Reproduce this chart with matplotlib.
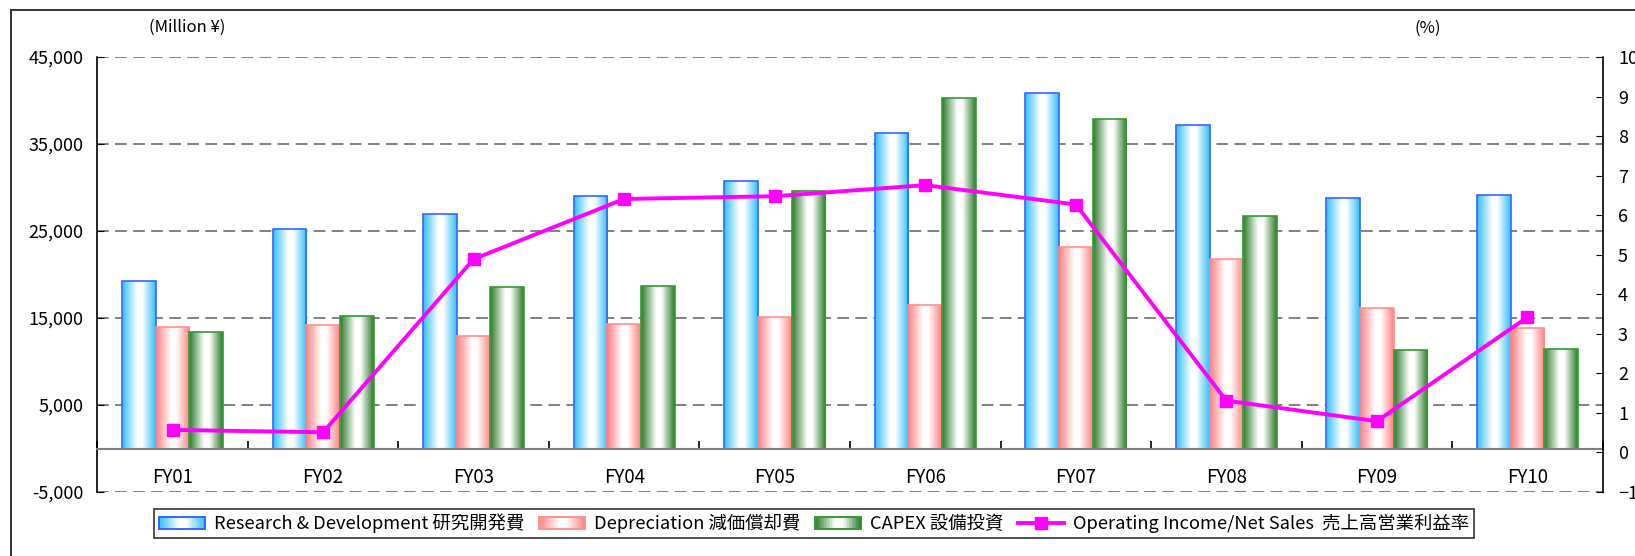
import numpy as np
import matplotlib
matplotlib.use('Agg')
import matplotlib.pyplot as plt
from matplotlib.colors import LinearSegmentedColormap
from matplotlib.legend_handler import HandlerBase
from matplotlib.patches import Rectangle
from matplotlib.lines import Line2D
from matplotlib.ticker import FuncFormatter

plt.rcParams['font.family'] = ['Noto Sans CJK JP', 'DejaVu Sans']

# ---------------- data ----------------
categories = ['FY01', 'FY02', 'FY03', 'FY04', 'FY05', 'FY06', 'FY07', 'FY08', 'FY09', 'FY10']
rnd = [19200, 25250, 26950, 28970, 30760, 36260, 40840, 37210, 28820, 29160]
depreciation = [13980, 14200, 12900, 14310, 15110, 16490, 23130, 21760, 16110, 13890]
capex = [13410, 15190, 18510, 18700, 29620, 40230, 37820, 26760, 11300, 11490]
op_margin = [0.57, 0.51, 4.89, 6.41, 6.48, 6.76, 6.27, 1.31, 0.79, 3.42]
left_ticks = [-5000, 5000, 15000, 25000, 35000, 45000]
right_ticks = list(range(-1, 11))
series_labels = ['Research & Development 研究開発費', 'Depreciation 減価償却費',
                 'CAPEX 設備投資', 'Operating Income/Net Sales  売上高営業利益率']
left_unit = '(Million ¥)'
right_unit = '(%)'

# ---------------- styles ----------------
W, H = 1635, 556
fig = plt.figure(figsize=(W / 100, H / 100), dpi=100)
ax = fig.add_axes([97.3 / W, 1 - 492 / H, (1602.7 - 97.3) / W, (492 - 57) / H])

cmaps = [
    LinearSegmentedColormap.from_list('b', [(0, '#30bff8'), (0.45, '#ffffff'), (0.6, '#ffffff'), (1, '#30bff8')]),
    LinearSegmentedColormap.from_list('r', [(0, '#ff8080'), (0.45, '#ffffff'), (0.6, '#ffffff'), (1, '#ff8080')]),
    LinearSegmentedColormap.from_list('g', [(0, '#2a7a2a'), (0.45, '#ffffff'), (0.6, '#ffffff'), (1, '#2a7a2a')]),
]
edges = ['#3366ff', '#ff9090', '#339933']

x = np.arange(len(categories))
bw = 0.2238
offsets = [-bw, 0, bw]
grad = np.linspace(0, 1, 256).reshape(1, -1)

containers = []
for vals, off, cm, ec in zip([rnd, depreciation, capex], offsets, cmaps, edges):
    bars = ax.bar(x + off, vals, width=bw, facecolor='none', edgecolor=ec, linewidth=1.2, zorder=3)
    for p in bars.patches:
        x0, w, h = p.get_x(), p.get_width(), p.get_height()
        ax.imshow(grad, cmap=cm, extent=[x0, x0 + w, 0, h], aspect='auto',
                  interpolation='bilinear', zorder=2.5)
    containers.append(bars)

ax.set_xlim(-0.5, len(categories) - 0.5)
ax.set_ylim(-5000, 45000)
ax.set_yticks(left_ticks)
ax.yaxis.set_major_formatter(FuncFormatter(lambda v, p: f'{v:,.0f}'))
ax.yaxis.grid(True, linestyle=(0, (6.5, 3.5)), color='#777777', linewidth=1.3)
ax.set_axisbelow(True)
ax.tick_params(axis='y', direction='in', length=5, labelsize=13, pad=10, colors='black')

ax.spines['top'].set_visible(False)
ax.spines['right'].set_visible(False)
ax.spines['left'].set_color('black')
ax.spines['left'].set_linewidth(1.2)
ax.spines['bottom'].set_position(('data', 0))
ax.spines['bottom'].set_color('#808080')
ax.spines['bottom'].set_linewidth(1.5)
ax.spines['bottom'].set_zorder(4)

ax.set_xticks(x)
ax.set_xticklabels(categories)
ax.set_xticks(np.arange(-0.5, len(categories), 1), minor=True)
ax.tick_params(axis='x', which='major', length=0, pad=13, labelsize=13.5)
ax.tick_params(axis='x', which='minor', direction='in', length=6, width=1.2, color='black')

ax2 = ax.twinx()
ax2.set_position(ax.get_position())
line, = ax2.plot(x, op_margin, color='#ff00ff', lw=2.8, marker='s', ms=8, zorder=5)
ax2.set_ylim(-1, 10)
ax2.set_yticks(right_ticks)
ax2.tick_params(axis='y', direction='in', length=5, labelsize=13, pad=11)
for s in ['top', 'bottom', 'left']:
    ax2.spines[s].set_visible(False)
ax2.spines['right'].set_color('black')
ax2.spines['right'].set_linewidth(1.2)

fig.text(186.7 / W, 1 - 27.7 / H, left_unit, ha='center', va='center', fontsize=12)
fig.text(1427.5 / W, 1 - 28.3 / H, right_unit, ha='center', va='center', fontsize=12)

# outer frame
fig.add_artist(Line2D([11 / W, 1.0], [1 - 10 / H] * 2, transform=fig.transFigure, color='#333333', lw=1.4))
fig.add_artist(Line2D([11 / W] * 2, [0, 1 - 10 / H], transform=fig.transFigure, color='#333333', lw=1.4))


class GradientHandler(HandlerBase):
    def __init__(self, cmap, edge, **kw):
        super().__init__(**kw)
        self.cmap = cmap
        self.edge = edge

    def create_artists(self, legend, orig_handle, xdescent, ydescent, width, height, fontsize, trans):
        n = 30
        arts = []
        for i in range(n):
            arts.append(Rectangle((-xdescent + width * i / n, -ydescent), width / n, height,
                                  facecolor=self.cmap((i + 0.5) / n), edgecolor='none', transform=trans))
        arts.append(Rectangle((-xdescent, -ydescent), width, height, facecolor='none',
                              edgecolor=self.edge, lw=1.4, transform=trans))
        return arts


hmap = {c: GradientHandler(cm, ec) for c, cm, ec in zip(containers, cmaps, edges)}
leg = fig.legend(containers + [line], series_labels, handler_map=hmap, loc='center',
                 bbox_to_anchor=(814 / W, 1 - 523.5 / H), bbox_transform=fig.transFigure,
                 ncol=4, fontsize=13.2, frameon=True, fancybox=False, shadow=False,
                 handlelength=2.5, handleheight=0.6, handletextpad=0.5, columnspacing=0.8,
                 borderpad=0.25, borderaxespad=0)
leg.get_frame().set_edgecolor('black')
leg.get_frame().set_linewidth(1.2)

fig.savefig('out.png', dpi=100)
